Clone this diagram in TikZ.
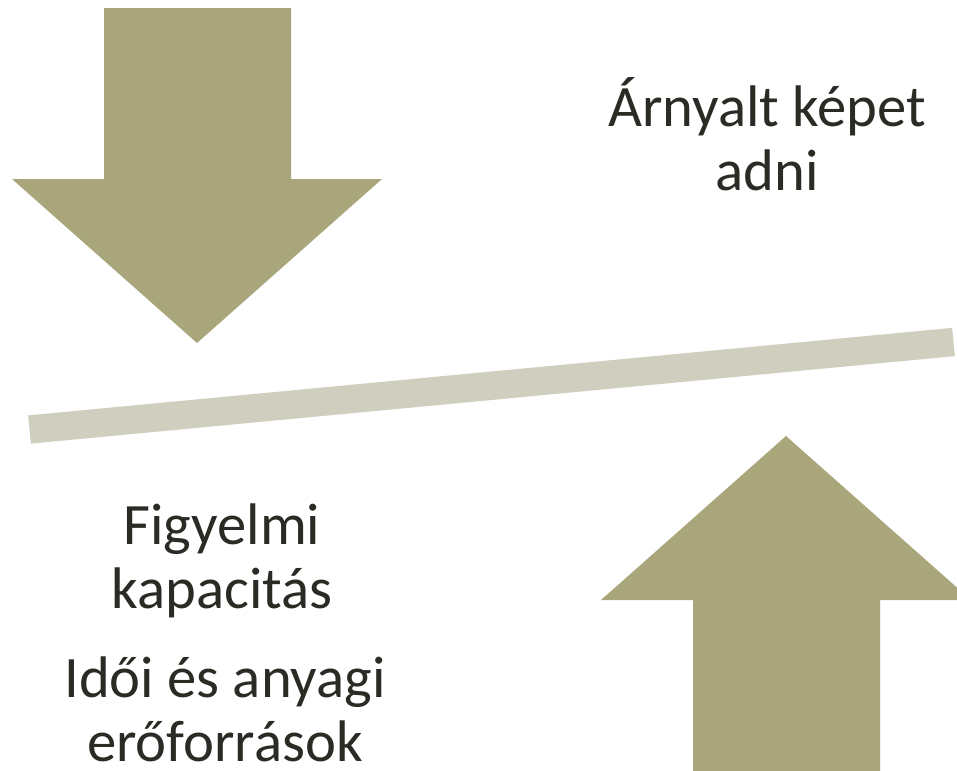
\documentclass[tikz,border=0pt]{standalone}
\usepackage{fontspec}
\setmainfont{Carlito}
\definecolor{arrowfill}{HTML}{A9A67C}
\definecolor{barfill}{HTML}{D0CFBF}
\definecolor{txt}{HTML}{2C2A24}
\begin{document}
\begin{tikzpicture}[x=0.75pt,y=-0.75pt,
  bigarrow/.style={fill=arrowfill,draw=none},
  label/.style={text=txt,align=center,inner sep=0pt,anchor=base,
    font=\fontsize{44}{47.6}\selectfont}]
\useasboundingbox (0,0) rectangle (957,771);
\clip (0,0) rectangle (957,771);
% down arrow
\fill[bigarrow] (104,8) -- (291,8) -- (291,179) -- (382,179) -- (197,343) -- (12,179) -- (104,179) -- cycle;
% up arrow
\fill[bigarrow] (693,772) -- (880,772) -- (880,600) -- (971,600) -- (786,436) -- (601,600) -- (693,600) -- cycle;
% balance bar
\coordinate (barL) at (29.5,429.5);
\coordinate (barR) at (953.5,342);
\draw[barfill,line width=21.3pt,line cap=butt] (barL) -- (barR);
% texts (anchor=base is the baseline of the last line)
\node[label] (arnyalt) at (767,190) {Árnyalt képet\\adni};
\node[label] (figyelmi) at (222,608) {Figyelmi\\kapacitás};
\node[label,text depth=0pt] (idoi) at (225,761) {Idői és anyagi\\erőforrások};
\end{tikzpicture}
\end{document}
